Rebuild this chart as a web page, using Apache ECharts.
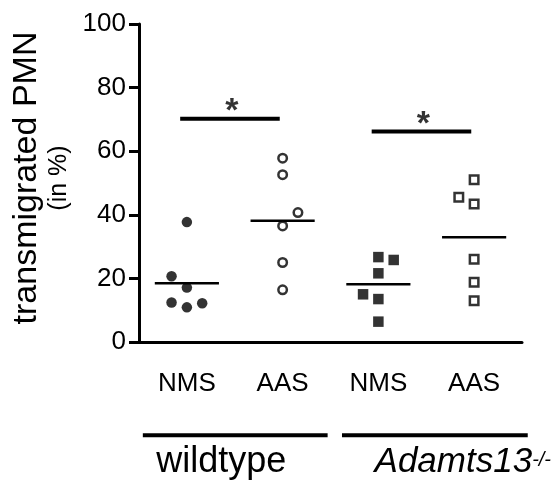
<!DOCTYPE html>
<html>
<head>
<meta charset="utf-8">
<script src="https://cdn.jsdelivr.net/npm/echarts@6/dist/echarts.min.js"></script>
<style>
html, body { margin: 0; padding: 0; background: #fff; }
#chart { width: 556px; height: 483px; }
</style>
</head>
<body>
<div id="chart"></div>
<script>
var categories = ['NMS', 'AAS', 'NMS', 'AAS'];
var yTicks = [0, 20, 40, 60, 80, 100];
// values, one array per column
var wtNms = [37.7, 20.7, 17.1, 12.4, 10.9, 12.2];
var wtAas = [57.8, 52.6, 40.7, 36.5, 25.0, 16.4];
var koNms = [26.7, 25.8, 21.6, 15.0, 13.5, 6.4];
var koAas = [51.0, 45.5, 43.4, 26.0, 18.8, 13.0];
// side shift of overlapping points (-1 left, 1 right)
var wtNmsJit = [0, -1, 0, -1, 0, 1];
var wtAasJit = [0, 0, 1, 0, 0, 0];
var koNmsJit = [0, 1, 0, -1, 0, 0];
var koAasJit = [0, -1, 0, 0, 0, 0];
// significance bars
var sigLevel = [70.2, 66.2];
var sigLabel = ['*', '*'];
var groupNames = ['wildtype', 'Adamts13'];

var FONT = 'Liberation Sans, Arial, sans-serif';
var JIT = 0.16;

function toPoints(vals, jit, idx) {
  return vals.map(function (v, i) {
    return [idx + 1 + jit[i] * JIT, v];
  });
}
function mean(a) {
  var s = 0;
  for (var i = 0; i < a.length; i++) s += a[i];
  return s / a.length;
}

var columns = [
  { vals: wtNms, jit: wtNmsJit, symbol: 'circle', filled: true },
  { vals: wtAas, jit: wtAasJit, symbol: 'circle', filled: false },
  { vals: koNms, jit: koNmsJit, symbol: 'rect', filled: true },
  { vals: koAas, jit: koAasJit, symbol: 'rect', filled: false }
];

var series = [];
columns.forEach(function (c, i) {
  series.push({
    type: 'scatter',
    xAxisIndex: 1,
    data: toPoints(c.vals, c.jit, i),
    symbol: c.symbol,
    symbolSize: c.filled ? 10.5 : 8.5,
    itemStyle: c.filled
      ? { color: '#000' }
      : { color: '#fff', borderColor: '#000', borderWidth: 2.5 },
    z: 3,
    silent: true
  });
  var m = mean(c.vals);
  series.push({
    type: 'line',
    xAxisIndex: 1,
    data: [[i + 1 - 0.335, m], [i + 1 + 0.335, m]],
    symbol: 'none',
    lineStyle: { color: '#000', width: 2.5 },
    z: 2,
    silent: true
  });
});

sigLevel.forEach(function (lv, k) {
  var a = 2 * k + 1;
  series.push({
    type: 'line',
    xAxisIndex: 1,
    data: [[a - 0.07, lv], [a + 0.97, lv]],
    symbol: 'none',
    lineStyle: { color: '#000', width: 4 },
    silent: true
  });
  series.push({
    type: 'scatter',
    xAxisIndex: 1,
    data: [[a + 0.47, lv]],
    symbolSize: 0,
    silent: true,
    label: {
      show: true,
      formatter: sigLabel[k],
      position: 'inside',
      offset: [0, -7],
      fontSize: 34,
      fontWeight: 'bold',
      fontFamily: FONT,
      color: '#000'
    }
  });
});

var chart = echarts.init(document.getElementById('chart'));

chart.setOption({
  animation: false,
  backgroundColor: '#fff',
  grid: { left: 139, right: 34, top: 24, bottom: 141 },
  xAxis: [
    {
      type: 'category',
      data: categories,
      boundaryGap: true,
      axisLine: { lineStyle: { color: '#000', width: 3 } },
      axisTick: { alignWithLabel: true, length: 10, lineStyle: { color: '#000', width: 3 } },
      axisLabel: { color: '#000', fontSize: 26, fontFamily: FONT, margin: 29 }
    },
    { type: 'value', min: 0.5, max: 4.5, show: false }
  ],
  yAxis: {
    type: 'value',
    min: yTicks[0],
    max: yTicks[yTicks.length - 1],
    interval: 20,
    name: '{a|transmigrated PMN}\n{b|(in %)}',
    nameLocation: 'middle',
    nameRotate: 90,
    nameGap: 61,
    nameTextStyle: {
      color: '#000',
      fontFamily: FONT,
      padding: [0, 0, 0, 10],
      rich: {
        a: { fontSize: 34, lineHeight: 38, fontFamily: FONT, color: '#000' },
        b: { fontSize: 25, lineHeight: 28, fontFamily: FONT, color: '#000' }
      }
    },
    axisLine: { show: true, lineStyle: { color: '#000', width: 3 } },
    axisTick: { show: true, length: 10, lineStyle: { color: '#000', width: 3 } },
    axisLabel: { color: '#000', fontSize: 26, fontFamily: FONT, margin: 13 },
    splitLine: { show: false }
  },
  series: series
});

// group brackets under the category labels
var groupSpan = [[0.54, 2.47], [2.62, 4.56]];
var groupTextX = [0.68, 2.96];
var lineLevel = -29.3;
var textLevel = -37.8;

function px(x) { return chart.convertToPixel({ xAxisIndex: 1 }, x); }
function py(y) { return chart.convertToPixel({ yAxisIndex: 0 }, y); }

var graphics = [];
groupSpan.forEach(function (s) {
  graphics.push({
    type: 'line',
    shape: { x1: px(s[0]), y1: py(lineLevel), x2: px(s[1]), y2: py(lineLevel) },
    style: { stroke: '#000', lineWidth: 4 }
  });
});
graphics.push({
  type: 'text',
  x: px(groupTextX[0]),
  y: py(textLevel),
  style: {
    text: groupNames[0],
    fontSize: 36,
    fontFamily: FONT,
    fill: '#000',
    verticalAlign: 'middle'
  }
});
graphics.push({
  type: 'text',
  x: px(groupTextX[1]),
  y: py(textLevel),
  style: {
    text: '{i|' + groupNames[1] + '}{s|-/-}',
    fontFamily: FONT,
    fill: '#000',
    verticalAlign: 'middle',
    rich: {
      i: { fontSize: 35, lineHeight: 35, fontStyle: 'italic', fontFamily: FONT, fill: '#000' },
      s: { fontSize: 20, lineHeight: 35, fontStyle: 'italic', fontFamily: FONT, fill: '#000', verticalAlign: 'top', padding: [6, 0, 0, 0] }
    }
  }
});
chart.setOption({ graphic: graphics });
</script>
</body>
</html>
